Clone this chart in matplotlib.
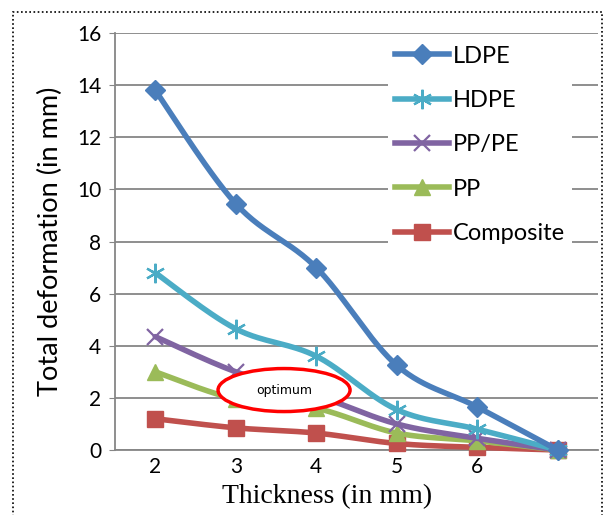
import numpy as np
import matplotlib.pyplot as plt
from matplotlib.patches import Ellipse, Rectangle

# data
thickness = [2, 3, 4, 5, 6, 7]
tick_labels = ['2', '3', '4', '5', '6', '']
ldpe = [13.8, 9.45, 7.0, 3.25, 1.65, 0.0]
hdpe = [6.8, 4.65, 3.6, 1.55, 0.8, 0.0]
pppe = [4.35, 3.0, 2.1, 1.0, 0.45, 0.0]
pp = [3.0, 1.95, 1.6, 0.65, 0.35, 0.0]
composite = [1.2, 0.85, 0.65, 0.25, 0.1, 0.0]

series = [
    ('LDPE', ldpe, '#4a7ebb', 'D', 10),
    ('HDPE', hdpe, '#4bacc6', (6, 2, 0), 14),
    ('PP/PE', pppe, '#8064a2', 'x', 11),
    ('PP', pp, '#9bbb59', '^', 12),
    ('Composite', composite, '#c0504d', 's', 12),
]


def smooth(x, y, n=30):
    # excel-like smoothed line (catmull-rom bezier)
    x = np.asarray(x, float)
    y = np.asarray(y, float)
    px = np.concatenate([[x[0]], x, [x[-1]]])
    py = np.concatenate([[y[0]], y, [y[-1]]])
    xs, ys = [], []
    t = np.linspace(0, 1, n)
    for i in range(1, len(px) - 2):
        p0 = np.array([px[i], py[i]])
        p3 = np.array([px[i + 1], py[i + 1]])
        p1 = p0 + (np.array([px[i + 1], py[i + 1]]) - np.array([px[i - 1], py[i - 1]])) / 6
        p2 = p3 - (np.array([px[i + 2], py[i + 2]]) - np.array([px[i], py[i]])) / 6
        b = ((1 - t) ** 3)[:, None] * p0 + (3 * (1 - t) ** 2 * t)[:, None] * p1 \
            + (3 * (1 - t) * t ** 2)[:, None] * p2 + (t ** 3)[:, None] * p3
        xs.extend(b[:, 0])
        ys.extend(b[:, 1])
    return xs, ys


fig = plt.figure(figsize=(6.03, 5.15), dpi=100)
ax = fig.add_axes([115 / 603, 65 / 515, 483 / 603, 417 / 515])

for i, (name, vals, col, mk, ms) in enumerate(series):
    z = 20 - 2 * i
    mew = 1.6 if mk in ('x', (6, 2, 0)) else 1
    sx, sy = smooth(thickness, vals)
    ax.plot(sx, sy, color=col, lw=4, solid_capstyle='round', zorder=z, clip_on=False)
    ax.plot(thickness, vals, ls='none', marker=mk, ms=ms, color=col,
            markeredgecolor=col, markeredgewidth=mew, zorder=z + 1, clip_on=False)
    ax.plot([], [], color=col, lw=4, marker=mk, ms=ms, markeredgecolor=col,
            markeredgewidth=mew, label=name)

ax.add_patch(Ellipse((3.6, 2.3), 1.64, 1.65, facecolor='white', edgecolor='red', lw=2.5, zorder=25))
ax.text(3.6, 2.3, 'optimum', ha='center', va='center', fontsize=9, family='DejaVu Sans', zorder=26)

ax.set_xlim(1.5, 7.5)
ax.set_ylim(0, 16)
ax.set_yticks(range(0, 17, 2))
ax.set_xticks(thickness)
ax.set_xticklabels(tick_labels)
ax.grid(axis='y', color='#868686', lw=1.3)
ax.set_axisbelow(True)
for s in ['top', 'right']:
    ax.spines[s].set_visible(False)
for s in ['left', 'bottom']:
    ax.spines[s].set_color('#868686')
    ax.spines[s].set_linewidth(1.3)
ax.tick_params(axis='y', length=4, color='#868686', labelsize=15, pad=6)
ax.tick_params(axis='x', length=0, labelsize=15, pad=5)
for lab in ax.get_xticklabels() + ax.get_yticklabels():
    lab.set_family('Lato')

ax.set_ylabel('Total deformation (in mm)', fontsize=19.5, family='Lato', labelpad=10)
ax.set_xlabel('Thickness (in mm)', fontsize=20, family='Liberation Serif', labelpad=5)
ax.xaxis.label.set_x(0.44)

leg = ax.legend(loc='upper left', bbox_to_anchor=(0.54, 1.015), frameon=True, fancybox=False,
                edgecolor='none', facecolor='white', framealpha=1,
                prop={'family': 'Lato', 'size': 17}, handlelength=2.3,
                labelspacing=0.99, handletextpad=0.15, borderpad=0.3)
leg.set_zorder(30)

# dotted frame around the chart
fig.patches.append(Rectangle((13 / 603, -0.1), (602 - 13) / 603, (515 - 12) / 515 + 0.1,
                             transform=fig.transFigure, fill=False, ec='black', lw=1.2,
                             ls=(0, (1, 1.5))))

fig.savefig('out.png', dpi=100)
